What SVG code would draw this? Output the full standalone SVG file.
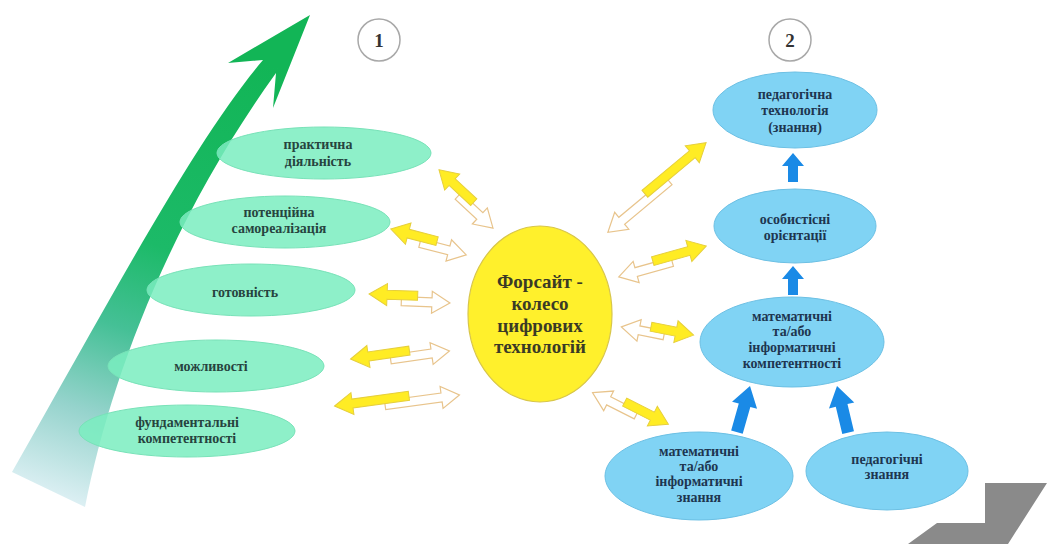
<svg xmlns="http://www.w3.org/2000/svg" width="1047" height="544" viewBox="0 0 1047 544">
<defs>
<linearGradient id="gArrow" gradientUnits="userSpaceOnUse" x1="200" y1="40" x2="40" y2="510">
<stop offset="0" stop-color="#12b556"/>
<stop offset="0.42" stop-color="#1cba68"/>
<stop offset="0.6" stop-color="#45c096"/>
<stop offset="0.78" stop-color="#95d3cc"/>
<stop offset="1" stop-color="#eaf5fb"/>
</linearGradient>
<style>
.g{fill:#7aedc0;fill-opacity:0.85;stroke:#78e2b8;stroke-width:1}
.b{fill:#80d3f4;stroke:#6cc0e4;stroke-width:1}
.tg{font-family:"Liberation Serif",serif;font-weight:bold;font-size:14px;fill:#27443f;text-anchor:middle}
.tb{font-family:"Liberation Serif",serif;font-weight:bold;font-size:14px;fill:#1e3650;text-anchor:middle}
.tc{font-family:"Liberation Serif",serif;font-weight:bold;font-size:19px;fill:#3a3a26;text-anchor:middle}
.num{font-family:"Liberation Serif",serif;font-weight:bold;font-size:19px;fill:#333;text-anchor:middle}
.ring{fill:#fff;stroke:#a8a8a8;stroke-width:1.5}
.ya{fill:#ffec24;stroke:#e6cf3c;stroke-width:1}
.ha{fill:#fff;stroke:#e8c48c;stroke-width:1.2}
.ba{fill:#1a8ae6}
</style>
</defs>
<rect width="1047" height="544" fill="#fff"/>

<g id="growth-arrow">
<path d="M263,60 L228,63 L310,15 L273,108 L276,73 C170,220 110,380 85,507 L12,472 C110,300 195,140 263,60 Z" fill="url(#gArrow)"/>
</g>

<g id="badge-1"><circle class="ring" cx="379" cy="40" r="21"/><text class="num" x="379" y="47">1</text></g>
<g id="badge-2"><circle class="ring" cx="790" cy="40" r="21"/><text class="num" x="790" y="47">2</text></g>

<g id="node-praktychna"><ellipse class="g" cx="324" cy="153" rx="107" ry="26"/><text class="tg" x="318" y="149">практична</text><text class="tg" x="318" y="166">діяльність</text></g>
<g id="node-potentsiina"><ellipse class="g" cx="285" cy="222" rx="105" ry="26"/><text class="tg" x="279" y="217">потенційна</text><text class="tg" x="279" y="233">самореалізація</text></g>
<g id="node-gotovnist"><ellipse class="g" cx="251" cy="290" rx="104" ry="26"/><text class="tg" x="245" y="297">готовність</text></g>
<g id="node-mozhlyvosti"><ellipse class="g" cx="216" cy="366" rx="108" ry="26"/><text class="tg" x="211" y="371">можливості</text></g>
<g id="node-fundamentalni"><ellipse class="g" cx="187" cy="431" rx="108" ry="26"/><text class="tg" x="187" y="427">фундаментальні</text><text class="tg" x="187" y="443">компетентності</text></g>

<g id="node-center"><ellipse cx="540" cy="314" rx="72" ry="88" fill="#fff02c" stroke="#d8c64a" stroke-width="1.2"/>
<text class="tc" x="540" y="288">Форсайт -</text><text class="tc" x="540" y="310">колесо</text><text class="tc" x="540" y="332">цифрових</text><text class="tc" x="540" y="353">технологій</text></g>

<g id="node-ped-tech"><ellipse class="b" cx="795" cy="110" rx="82" ry="38"/><text class="tb" x="795" y="99">педагогічна</text><text class="tb" x="795" y="115">технологія</text><text class="tb" x="795" y="132">(знання)</text></g>
<g id="node-osobystisni"><ellipse class="b" cx="795" cy="226" rx="81" ry="37"/><text class="tb" x="795" y="224">особистісні</text><text class="tb" x="795" y="240">орієнтації</text></g>
<g id="node-mat-komp"><ellipse class="b" cx="792" cy="342" rx="92" ry="45"/><text class="tb" x="792" y="321">математичні</text><text class="tb" x="792" y="336">та/або</text><text class="tb" x="792" y="352">інформатичні</text><text class="tb" x="792" y="368">компетентності</text></g>
<g id="node-mat-znannia"><ellipse class="b" cx="699" cy="476" rx="94" ry="44"/><text class="tb" x="699" y="456">математичні</text><text class="tb" x="699" y="471">та/або</text><text class="tb" x="699" y="486">інформатичні</text><text class="tb" x="699" y="502">знання</text></g>
<g id="node-ped-znannia"><ellipse class="b" cx="887" cy="471" rx="81" ry="39"/><text class="tb" x="887" y="464">педагогічні</text><text class="tb" x="887" y="479">знання</text></g>

<g id="connectors">
<path class="ha" transform="translate(493,228.2) rotate(222.97)" d="M0,0 L18,-11 L18,-4.5 L47.5,-4.5 L47.5,4.5 L18,4.5 L18,11 Z"/>
<path class="ya" transform="translate(439,169.8) rotate(42.97)" d="M0,0 L18,-11 L18,-4.5 L47.5,-4.5 L47.5,4.5 L18,4.5 L18,11 Z"/>
<path class="ha" transform="translate(466.2,254.9) rotate(194.56)" d="M0,0 L18,-11 L18,-4.5 L47.8,-4.5 L47.8,4.5 L18,4.5 L18,11 Z"/>
<path class="ya" transform="translate(390.8,229.1) rotate(14.56)" d="M0,0 L18,-11 L18,-4.5 L47.8,-4.5 L47.8,4.5 L18,4.5 L18,11 Z"/>
<path class="ha" transform="translate(449.9,303) rotate(182.12)" d="M0,0 L18,-11 L18,-4.5 L48.6,-4.5 L48.6,4.5 L18,4.5 L18,11 Z"/>
<path class="ya" transform="translate(369.1,294) rotate(2.12)" d="M0,0 L18,-11 L18,-4.5 L48.6,-4.5 L48.6,4.5 L18,4.5 L18,11 Z"/>
<path class="ha" transform="translate(449.4,351) rotate(171.87)" d="M0,0 L18,-11 L18,-4.5 L59.4,-4.5 L59.4,4.5 L18,4.5 L18,11 Z"/>
<path class="ya" transform="translate(350.6,359) rotate(-8.13)" d="M0,0 L18,-11 L18,-4.5 L59.4,-4.5 L59.4,4.5 L18,4.5 L18,11 Z"/>
<path class="ha" transform="translate(459.4,395) rotate(172.19)" d="M0,0 L18,-11 L18,-4.5 L75,-4.5 L75,4.5 L18,4.5 L18,11 Z"/>
<path class="ya" transform="translate(334.6,406) rotate(-7.81)" d="M0,0 L18,-11 L18,-4.5 L75,-4.5 L75,4.5 L18,4.5 L18,11 Z"/>
<path class="ha" transform="translate(607.9,232.3) rotate(-39.8)" d="M0,0 L18,-11 L18,-4.5 L79.7,-4.5 L79.7,4.5 L18,4.5 L18,11 Z"/>
<path class="ya" transform="translate(706.1,142.7) rotate(140.2)" d="M0,0 L18,-11 L18,-4.5 L79.7,-4.5 L79.7,4.5 L18,4.5 L18,11 Z"/>
<path class="ha" transform="translate(618.8,276.9) rotate(-15.7)" d="M0,0 L18,-11 L18,-4.5 L55.5,-4.5 L55.5,4.5 L18,4.5 L18,11 Z"/>
<path class="ya" transform="translate(706.2,246.1) rotate(164.3)" d="M0,0 L18,-11 L18,-4.5 L55.5,-4.5 L55.5,4.5 L18,4.5 L18,11 Z"/>
<path class="ha" transform="translate(621.4,326.9) rotate(11.1)" d="M0,0 L18,-11 L18,-4.5 L43.4,-4.5 L43.4,4.5 L18,4.5 L18,11 Z"/>
<path class="ya" transform="translate(693.6,335.1) rotate(191.1)" d="M0,0 L18,-11 L18,-4.5 L43.4,-4.5 L43.4,4.5 L18,4.5 L18,11 Z"/>
<path class="ha" transform="translate(592.6,392.7) rotate(26.9)" d="M0,0 L18,-11 L18,-4.5 L49,-4.5 L49,4.5 L18,4.5 L18,11 Z"/>
<path class="ya" transform="translate(668.4,424.3) rotate(206.9)" d="M0,0 L18,-11 L18,-4.5 L49,-4.5 L49,4.5 L18,4.5 L18,11 Z"/>

<path class="ba" d="M793,153 L782,166 L788,166 L788,182 L798,182 L798,166 L804,166 Z"/>
<path class="ba" d="M793,266 L782,279 L788,279 L788,295 L798,295 L798,279 L804,279 Z"/>
<path class="ba" transform="translate(750,386) rotate(15.8)" d="M0,0 L13,20 L6,20 L6,48 L-6,48 L-6,20 L-13,20 Z"/>
<path class="ba" transform="translate(837,386) rotate(-13.4)" d="M0,0 L13,20 L6,20 L6,48 L-6,48 L-6,20 L-13,20 Z"/>
</g>

<g id="corner-step"><path d="M985,483 L1047,483 L1008,544 L908,544 L937,523 L985,523 Z" fill="#8a8a8a"/></g>
</svg>
